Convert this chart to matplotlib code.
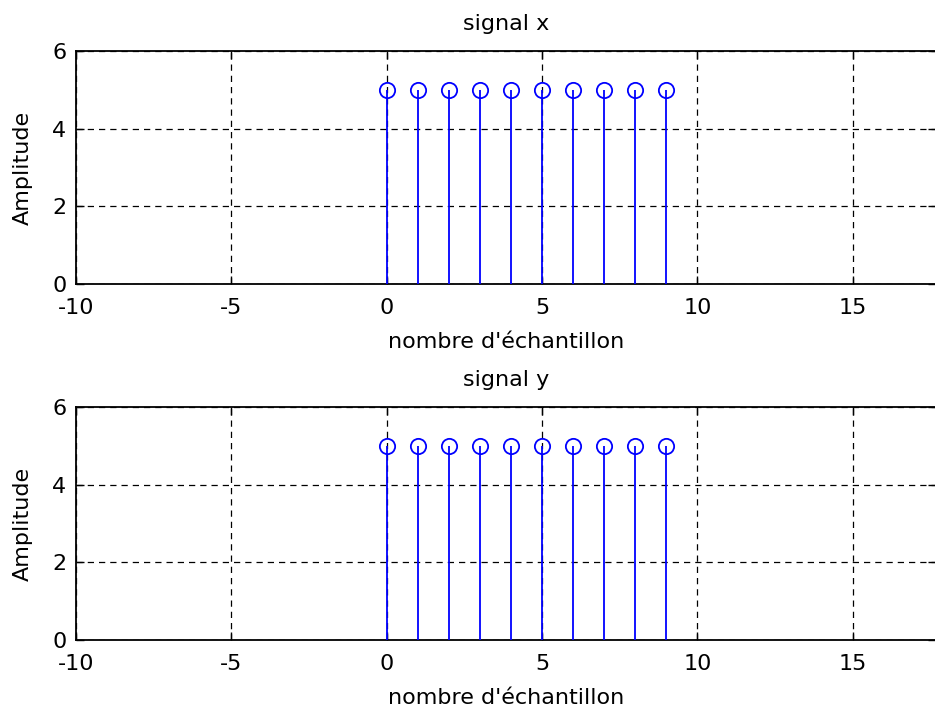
import matplotlib
matplotlib.use("Agg")
import matplotlib.pyplot as plt

# sample indices and amplitudes
n = [0, 1, 2, 3, 4, 5, 6, 7, 8, 9]
x = [5, 5, 5, 5, 5, 5, 5, 5, 5, 5]
y = [5, 5, 5, 5, 5, 5, 5, 5, 5, 5]

titles = ["signal x", "signal y"]
xticks = [-10, -5, 0, 5, 10, 15]
yticks = [0, 2, 4, 6]

plt.rcParams["font.family"] = ["DejaVu Sans"]
plt.rcParams["font.size"] = 16
plt.rcParams["axes.unicode_minus"] = False

W, H = 935, 708
fig = plt.figure(figsize=(W / 100, H / 100), dpi=100)

left = 76 / W
width = 860 / W
tops = [51, 407]
hpx = 233

for top, sig, title in zip(tops, [x, y], titles):
    ax = fig.add_axes([left, (H - top - hpx) / H, width, hpx / H])
    ml, sl, bl = ax.stem(n, sig, linefmt="b-", markerfmt="bo", basefmt=" ")
    plt.setp(sl, linewidth=1.3, color="#0000ff", zorder=3)
    plt.setp(ml, markersize=11, markerfacecolor="none", markeredgecolor="#0000ff",
             markeredgewidth=1.3, zorder=4)
    ax.set_xlim(-10, -10 + 860 / 31.07)
    ax.set_ylim(0, 6)
    ax.set_xticks(xticks)
    ax.set_yticks(yticks)
    ax.grid(True, color="black", linestyle=(0, (5, 4)), linewidth=0.9)
    ax.set_axisbelow(True)
    for s in ax.spines.values():
        s.set_linewidth(1.3)
        s.set_color("black")
    ax.tick_params(direction="in", length=6, width=1.0, top=True, right=True,
                   labelsize=16)
    ax.tick_params(axis="x", pad=10)
    ax.tick_params(axis="y", pad=7)
    ax.set_title(title, fontsize=16, pad=15)
    ax.set_xlabel("nombre d'échantillon", fontsize=16, labelpad=10)
    ax.set_ylabel("Amplitude", fontsize=16, labelpad=14)

fig.savefig("out.png", dpi=100)
